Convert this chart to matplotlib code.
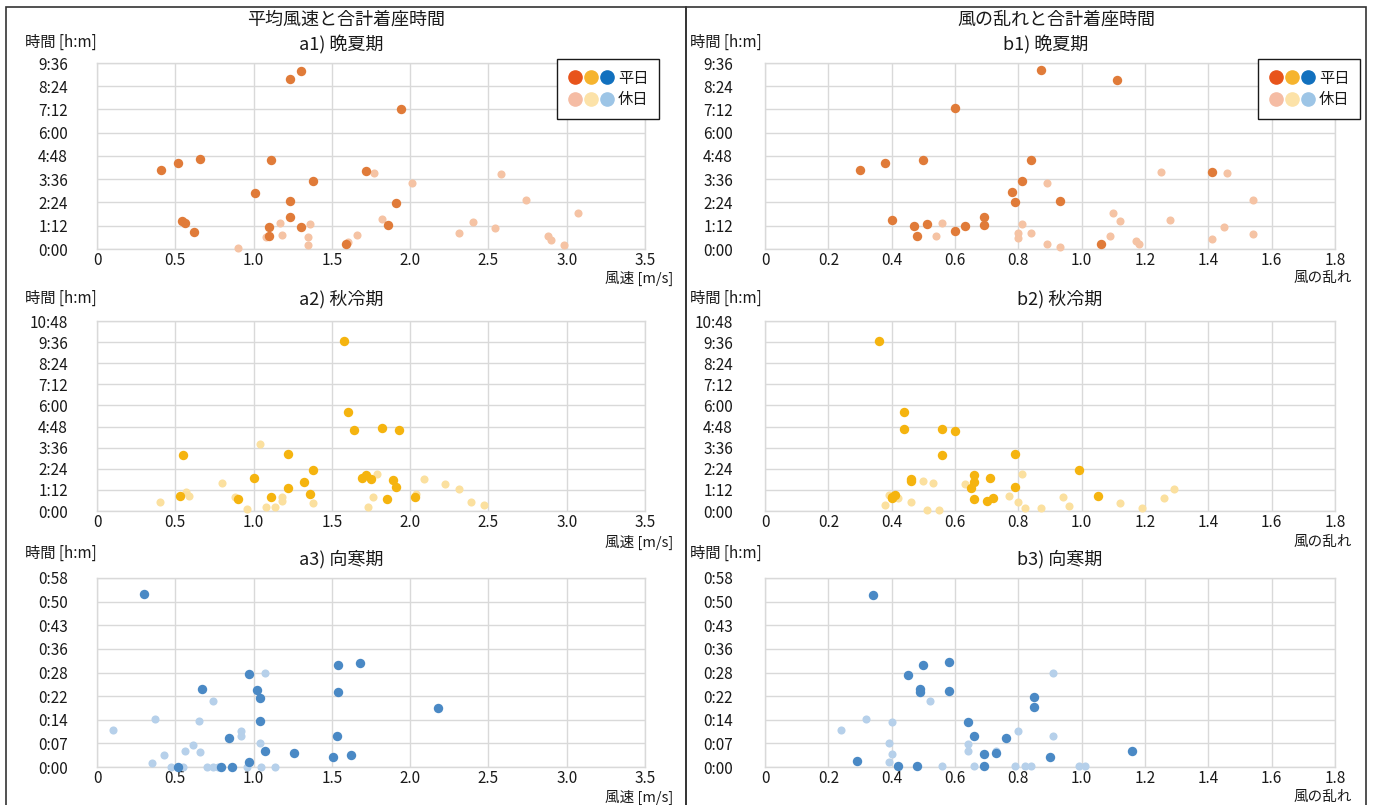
import matplotlib
matplotlib.use("Agg")
import matplotlib.pyplot as plt
from matplotlib.lines import Line2D
from matplotlib.legend_handler import HandlerTuple
from matplotlib.patches import Rectangle
import numpy as np

plt.rcParams['font.family'] = ['Noto Sans CJK JP', 'DejaVu Sans']

# ---------------- data (x: wind value, y: minutes) ----------------
a1_wd_x = [0.41, 0.52, 0.66, 0.54, 0.56, 0.62, 1.01, 1.11, 1.10, 1.10, 1.23, 1.30, 1.23, 1.23, 1.30, 1.38, 1.59, 1.72, 1.86, 1.91, 1.94]
a1_wd_y = [244, 267, 279, 87, 80, 52, 173, 275, 68, 40, 525, 552, 150, 99, 68, 212, 17, 240, 75, 142, 434]
a1_hd_x = [0.90, 1.08, 1.17, 1.18, 1.35, 1.35, 1.36, 1.60, 1.66, 1.77, 1.82, 2.01, 2.31, 2.40, 2.54, 2.58, 2.74, 2.88, 2.90, 2.98, 3.07]
a1_hd_y = [2, 38, 80, 44, 38, 13, 76, 21, 44, 236, 92, 205, 48, 83, 64, 231, 153, 40, 29, 13, 111]

b1_wd_x = [0.30, 0.38, 0.50, 0.60, 0.40, 0.47, 0.48, 0.51, 0.60, 0.63, 0.69, 0.69, 0.78, 0.79, 0.81, 0.84, 0.87, 0.93, 1.06, 1.11, 1.41]
b1_wd_y = [246, 265, 277, 437, 90, 70, 39, 78, 56, 70, 98, 74, 176, 145, 211, 277, 554, 148, 15, 524, 239]
b1_hd_x = [0.54, 0.56, 0.80, 0.80, 0.81, 0.84, 0.89, 0.89, 0.93, 1.09, 1.10, 1.12, 1.17, 1.18, 1.25, 1.28, 1.41, 1.45, 1.46, 1.54, 1.54]
b1_hd_y = [39, 82, 48, 35, 78, 51, 204, 15, 5, 39, 110, 86, 25, 15, 239, 90, 31, 67, 235, 46, 152]

a2_wd_x = [0.53, 0.55, 0.90, 1.00, 1.11, 1.22, 1.22, 1.32, 1.36, 1.38, 1.58, 1.60, 1.64, 1.69, 1.72, 1.75, 1.82, 1.85, 1.89, 1.91, 1.93, 2.03]
a2_wd_y = [52, 192, 40, 114, 48, 78, 196, 98, 57, 140, 581, 336, 275, 112, 124, 109, 283, 40, 106, 82, 275, 49]
a2_hd_x = [0.40, 0.57, 0.59, 0.80, 0.88, 0.96, 1.04, 1.08, 1.14, 1.18, 1.18, 1.38, 1.73, 1.76, 1.79, 2.04, 2.09, 2.22, 2.31, 2.39, 2.47]
a2_hd_y = [31, 64, 52, 97, 47, 6, 227, 13, 14, 48, 35, 26, 14, 48, 126, 57, 109, 92, 74, 31, 22]

b2_wd_x = [0.36, 0.44, 0.44, 0.56, 0.60, 0.56, 0.79, 0.99, 0.46, 0.46, 0.66, 0.66, 0.65, 0.71, 0.79, 0.41, 0.40, 0.66, 0.70, 0.72, 1.05, 0.40]
b2_wd_y = [581, 338, 281, 278, 272, 190, 196, 139, 108, 104, 123, 100, 77, 113, 83, 54, 43, 40, 35, 43, 51, 48]
b2_hd_x = [0.38, 0.39, 0.42, 0.46, 0.50, 0.51, 0.53, 0.55, 0.63, 0.77, 0.80, 0.81, 0.82, 0.87, 0.94, 0.96, 1.12, 1.19, 1.26, 1.29]
b2_hd_y = [22, 54, 43, 31, 104, 5, 96, 5, 91, 51, 31, 125, 9, 9, 47, 17, 26, 9, 43, 74]

a3_wd_x = [0.30, 0.52, 0.67, 0.79, 0.84, 0.86, 0.97, 0.97, 1.02, 1.04, 1.04, 1.07, 1.26, 1.51, 1.53, 1.54, 1.54, 1.62, 1.68, 2.18]
a3_wd_y = [52.8, 0, 23.8, 0, 8.8, 0, 28.3, 1.6, 23.4, 21.1, 14.0, 5.0, 4.2, 3.1, 9.4, 31.0, 23.0, 3.8, 31.7, 18.1]
a3_hd_x = [0.10, 0.35, 0.37, 0.43, 0.47, 0.55, 0.56, 0.61, 0.65, 0.66, 0.70, 0.74, 0.74, 0.77, 0.92, 0.92, 0.96, 1.04, 1.05, 1.07, 1.14]
a3_hd_y = [11.4, 1.2, 14.7, 3.8, 0, 0, 5.0, 6.8, 14.0, 4.6, 0, 0, 20.0, 0, 11.0, 9.4, 0, 7.4, 0, 28.6, 0]

b3_wd_x = [0.34, 0.29, 0.42, 0.45, 0.49, 0.49, 0.50, 0.48, 0.58, 0.58, 0.64, 0.66, 0.69, 0.69, 0.73, 0.76, 0.85, 0.85, 0.90, 1.16]
b3_wd_y = [52.5, 1.8, 0.3, 28.1, 22.9, 23.8, 31.2, 0.3, 23.3, 31.9, 13.8, 9.4, 4.0, 0.3, 4.4, 8.7, 21.2, 18.2, 3.2, 5.0]
b3_hd_x = [0.24, 0.32, 0.39, 0.39, 0.40, 0.40, 0.52, 0.56, 0.64, 0.64, 0.66, 0.73, 0.79, 0.80, 0.82, 0.84, 0.91, 0.91, 0.99, 1.01]
b3_hd_y = [11.3, 14.5, 7.3, 1.4, 13.8, 3.9, 20.0, 0.3, 6.9, 5.0, 0.3, 4.8, 0.3, 10.9, 0.3, 0.3, 28.5, 9.4, 0.3, 0.3]

# tick labels
x_labels_a = ["0", "0.5", "1.0", "1.5", "2.0", "2.5", "3.0", "3.5"]
x_labels_b = ["0", "0.2", "0.4", "0.6", "0.8", "1.0", "1.2", "1.4", "1.6", "1.8"]
y_labels_1 = ["0:00", "1:12", "2:24", "3:36", "4:48", "6:00", "7:12", "8:24", "9:36"]
y_labels_2 = ["0:00", "1:12", "2:24", "3:36", "4:48", "6:00", "7:12", "8:24", "9:36", "10:48"]
y_labels_3 = ["0:00", "0:07", "0:14", "0:22", "0:28", "0:36", "0:43", "0:50", "0:58"]

main_titles = ["平均風速と合計着座時間", "風の乱れと合計着座時間"]
sub_titles_a = ["a1) 晩夏期", "a2) 秋冷期", "a3) 向寒期"]
sub_titles_b = ["b1) 晩夏期", "b2) 秋冷期", "b3) 向寒期"]
x_titles = ["風速 [m/s]", "風の乱れ"]
y_title = "時間 [h:m]"
legend_labels = ["平日", "休日"]

# colors
wd_colors = ['#E07B39', '#F5B40F', '#4A89C5']
hd_colors = ['#F5C3A4', '#FBE09F', '#B6D0EA']
leg_wd_colors = ['#E8541B', '#F6B42E', '#1170BE']
leg_hd_colors = ['#F5BCA4', '#FCE2A8', '#9DC5E6']

# ---------------- layout ----------------
W, H = 1375, 805
fig = plt.figure(figsize=(W / 100, H / 100), dpi=100)
fig.patch.set_facecolor('white')


def fx(px):
    return px / W


def fy(py):
    return 1 - py / H


for x0, x1 in [(6, 686), (686, 1366)]:
    fig.patches.append(Rectangle((fx(x0), fy(815)), fx(x1) - fx(x0), fy(7) - fy(815),
                                 transform=fig.transFigure, fill=False,
                                 edgecolor='#333333', lw=1.2))

cols = [(97, 645), (765, 1335)]
rows = [(63, 249), (321, 511), (578, 767)]
ylab_sets = [(y_labels_1, 72.0), (y_labels_2, 72.0), (y_labels_3, 7.2)]

data = {
    (0, 0): (a1_wd_x, a1_wd_y, a1_hd_x, a1_hd_y),
    (0, 1): (a2_wd_x, a2_wd_y, a2_hd_x, a2_hd_y),
    (0, 2): (a3_wd_x, a3_wd_y, a3_hd_x, a3_hd_y),
    (1, 0): (b1_wd_x, b1_wd_y, b1_hd_x, b1_hd_y),
    (1, 1): (b2_wd_x, b2_wd_y, b2_hd_x, b2_hd_y),
    (1, 2): (b3_wd_x, b3_wd_y, b3_hd_x, b3_hd_y),
}

txt_color = '#1a1a1a'
grid_color = '#D9D9D9'

for ci, (l, r) in enumerate(cols):
    if ci == 0:
        xlabels, xstep, ypad = x_labels_a, 0.5, 21
    else:
        xlabels, xstep, ypad = x_labels_b, 0.2, 23
    xticks = np.arange(len(xlabels)) * xstep
    for ri, (t, b) in enumerate(rows):
        ylabels, ystep = ylab_sets[ri]
        yticks = np.arange(len(ylabels)) * ystep
        ax = fig.add_axes([fx(l), fy(b), fx(r) - fx(l), fy(t) - fy(b)])
        ax.set_xlim(xticks[0], xticks[-1])
        ax.set_ylim(yticks[0], yticks[-1])
        ax.set_xticks(xticks, xlabels)
        ax.set_yticks(yticks, ylabels)
        ax.grid(True, color=grid_color, lw=1.0)
        ax.set_axisbelow(True)
        for s in ax.spines.values():
            s.set_color(grid_color)
            s.set_linewidth(1.0)
        ax.tick_params(axis='both', length=0, labelsize=11, colors=txt_color)
        ax.tick_params(axis='y', pad=ypad)
        ax.tick_params(axis='x', pad=2)

        wx, wy, hx, hy = data[(ci, ri)]
        ax.scatter(hx, hy, s=34, color=hd_colors[ri], linewidths=0, clip_on=False, zorder=3)
        ax.scatter(wx, wy, s=46, color=wd_colors[ri], linewidths=0, clip_on=False, zorder=4)

        if ri == 0:
            wd_h = tuple(Line2D([], [], ls='none', marker='o', ms=9.5, mfc=c, mec=c) for c in leg_wd_colors)
            hd_h = tuple(Line2D([], [], ls='none', marker='o', ms=9.5, mfc=c, mec=c) for c in leg_hd_colors)
            right_px = 659 if ci == 0 else 1360
            leg = ax.legend([wd_h, hd_h], legend_labels,
                            handler_map={tuple: HandlerTuple(ndivide=None, pad=0)},
                            loc='upper right', bbox_to_anchor=(fx(right_px), fy(59)),
                            bbox_transform=fig.transFigure, frameon=True, fancybox=False,
                            edgecolor='#1a1a1a', framealpha=1, handlelength=3.1,
                            handletextpad=0.2, labelspacing=0.3, borderpad=0.7,
                            borderaxespad=0, fontsize=11)
            leg.get_frame().set_linewidth(1.0)
            for tx in leg.get_texts():
                tx.set_color(txt_color)

# ---------------- texts ----------------
fig.text(fx(346), fy(20), main_titles[0], ha='center', va='center', fontsize=13, color=txt_color)
fig.text(fx(1056), fy(20), main_titles[1], ha='center', va='center', fontsize=13, color=txt_color)

sub_y = [45, 299, 559]
sub_x_a = [341, 341, 341]
sub_x_b = [1046, 1060, 1060]
ylab_y = [42, 298, 553]
xlab_y = [278, 542, 797]
for i in range(3):
    fig.text(fx(sub_x_a[i]), fy(sub_y[i]), sub_titles_a[i], ha='center', va='center', fontsize=13, color=txt_color)
    fig.text(fx(sub_x_b[i]), fy(sub_y[i]), sub_titles_b[i], ha='center', va='center', fontsize=13, color=txt_color)
    fig.text(fx(25), fy(ylab_y[i]), y_title, ha='left', va='center', fontsize=11, color=txt_color)
    fig.text(fx(690), fy(ylab_y[i]), y_title, ha='left', va='center', fontsize=11, color=txt_color)
    fig.text(fx(673), fy(xlab_y[i]), x_titles[0], ha='right', va='center', fontsize=10.5, color=txt_color)
    fig.text(fx(1352), fy(xlab_y[i]), x_titles[1], ha='right', va='center', fontsize=10.5, color=txt_color)

fig.savefig("out.png", dpi=100)
